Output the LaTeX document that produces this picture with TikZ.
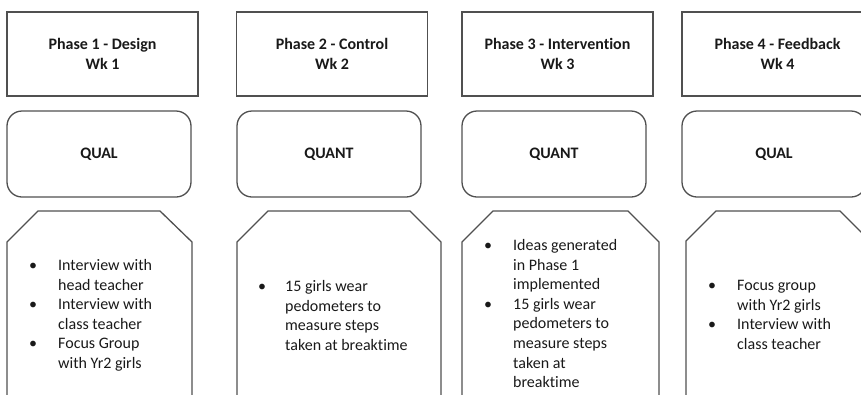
\documentclass[tikz,border=0pt]{standalone}
\usepackage{fontspec}
\setmainfont{Carlito}[Ligatures=NoCommon]
\definecolor{edge}{RGB}{80,80,80}
\definecolor{ink}{RGB}{25,25,25}
\newcommand{\bulletcol}[1]{\makebox[#1][l]{\makebox[0pt][c]{•}}}
\begin{document}
\begin{tikzpicture}[x=1pt,y=-1pt,
  phasebox/.style={draw=edge, line width=1.3pt, minimum width=191pt, minimum height=84pt,
    font=\fontsize{16}{20}\selectfont\bfseries, align=center, text=ink, inner sep=0pt},
  methodbox/.style={draw=edge, line width=1.3pt, rounded corners=15pt, minimum width=184pt,
    minimum height=86pt, font=\fontsize{16}{20}\selectfont\bfseries, text=ink, inner sep=0pt},
  listtext/.style={anchor=base west, inner sep=0pt, font=\fontsize{16}{19.6}\selectfont, text=ink},
  octa/.style={draw=edge, line width=1.3pt, line join=miter}]
\useasboundingbox (0,0) rectangle (861,394);
\begin{scope}
\clip (0,0) rectangle (861,394);
% phase boxes
\node[phasebox] (p1) at (102.5,54) {Phase 1 - Design\\Wk 1};
\node[phasebox] (p2) at (332,54) {Phase 2 - Control\\Wk 2};
\node[phasebox] (p3) at (557.5,54) {Phase 3 - Intervention\\Wk 3};
\node[phasebox] (p4) at (777.5,54) {Phase 4 - Feedback\\Wk 4};
% method boxes
\node[methodbox] (m1) at (99,154) {QUAL};
\node[methodbox] (m2) at (329,154) {QUANT};
\node[methodbox] (m3) at (554,154) {QUANT};
\node[methodbox] (m4) at (774,154) {QUAL};
% activity shapes
\draw[octa] (7,400) -- (7,242) -- (38,211) -- (160,211) -- (192,242) -- (192,400);
\draw[octa] (237,400) -- (237,242) -- (268,211) -- (410,211) -- (441,242) -- (441,400);
\draw[octa] (462,400) -- (462,242) -- (493,211) -- (628,211) -- (659,242) -- (659,400);
\draw[octa] (686,400) -- (686,241) -- (716,211) -- (840,211) -- (871,242) -- (871,400);
% activity texts
\node[listtext] (a1) at (33,270.5) {\begin{tabular}[t]{@{}l@{}l@{}}
\bulletcol{25pt} & Interview with\\
 & head teacher\\
\bulletcol{25pt} & Interview with\\
 & class teacher\\
\bulletcol{25pt} & Focus Group\\
 & with Yr2 girls
\end{tabular}};
\node[listtext] (a2) at (262,291.5) {\begin{tabular}[t]{@{}l@{}l@{}}
\bulletcol{23pt} & 15 girls wear\\
 & pedometers to\\
 & measure steps\\
 & taken at breaktime
\end{tabular}};
\node[listtext] (a3) at (488,250.5) {\begin{tabular}[t]{@{}l@{}l@{}}
\bulletcol{25pt} & Ideas generated\\
 & in Phase 1\\
 & implemented\\
\bulletcol{25pt} & 15 girls wear\\
 & pedometers to\\
 & measure steps\\
 & taken at\\
 & breaktime
\end{tabular}};
\node[listtext] (a4) at (712,290.5) {\begin{tabular}[t]{@{}l@{}l@{}}
\bulletcol{25pt} & Focus group\\
 & with Yr2 girls\\
\bulletcol{25pt} & Interview with\\
 & class teacher
\end{tabular}};
\end{scope}
\end{tikzpicture}
\end{document}
